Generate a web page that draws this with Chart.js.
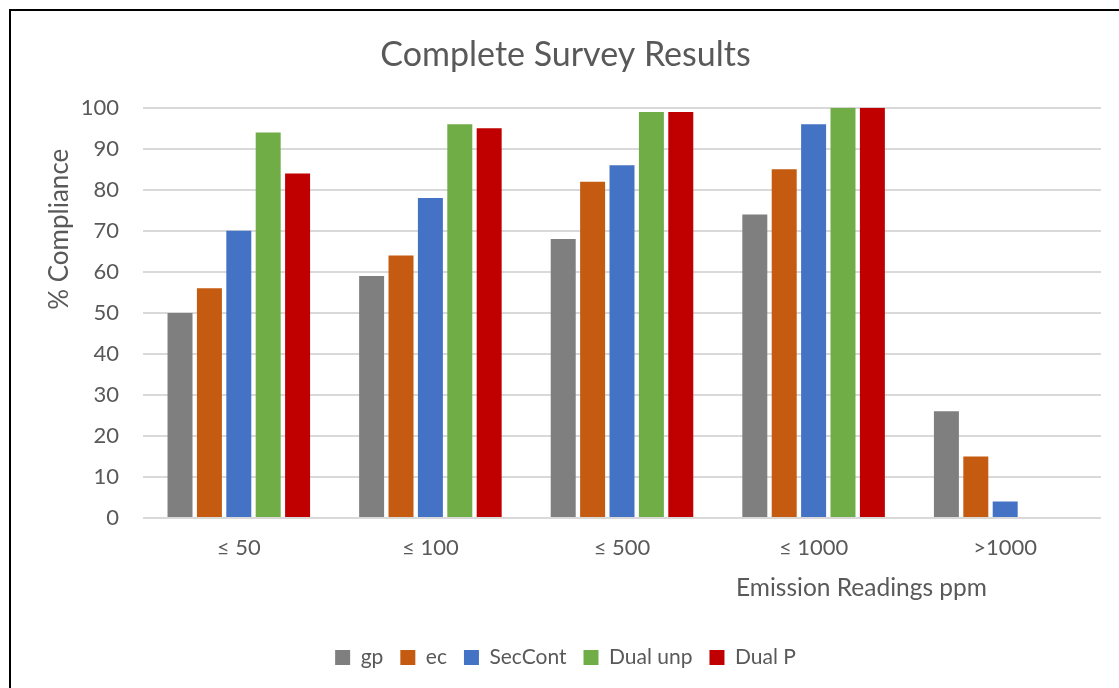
<!DOCTYPE html>
<html>
<head>
<meta charset="utf-8">
<script src="https://cdn.jsdelivr.net/npm/chart.js@4.4.1/dist/chart.umd.min.js"></script>
<style>
  html, body { margin: 0; padding: 0; background: #fff; }
  #marco {
    position: absolute; left: 9px; top: 9px; width: 1110px; height: 679px;
    border-left: 2px solid #000; border-top: 2px solid #000;
  }
  #caja { position: absolute; left: 0; top: 0; width: 1119px; height: 688px; }
</style>
</head>
<body>
<div id="marco"></div>
<div id="caja"><canvas id="grafico"></canvas></div>
<script>
// Datos
var categorias = ['\u2264 50', '\u2264 100', '\u2264 500', '\u2264 1000', '>1000'];
var gp       = [50, 59, 68, 74, 26];
var ec       = [56, 64, 82, 85, 15];
var secCont  = [70, 78, 86, 96, 4];
var dualUnp  = [94, 96, 99, 100, 0];
var dualP    = [84, 95, 99, 100, 0];
var ticksY   = [0, 10, 20, 30, 40, 50, 60, 70, 80, 90, 100];

var gris = '#595959';
var fuente = "Lato, 'Open Sans', sans-serif";

// Titulos de los ejes colocados como en Excel (no centrados)
var titulosEjes = {
    id: 'titulosEjes',
    afterDraw: function(chart) {
        var ctx = chart.ctx;
        var area = chart.chartArea;
        ctx.save();
        ctx.fillStyle = gris;
        ctx.textAlign = 'center';
        ctx.textBaseline = 'middle';
        // eje X
        ctx.font = '24.5px ' + fuente;
        ctx.fillText('Emission Readings ppm', area.left + (area.right - area.left) * 0.75, area.bottom + 70);
        // eje Y
        ctx.font = '26px ' + fuente;
        ctx.translate(60, area.top + (area.bottom - area.top) * 0.296);
        ctx.rotate(-Math.PI / 2);
        ctx.fillText('% Compliance', 0, 0);
        ctx.restore();
    }
};

var ctx = document.getElementById('grafico').getContext('2d');
var grafico = new Chart(ctx, {
    type: 'bar',
    data: {
        labels: categorias,
        datasets: [
            { label: 'gp', data: gp, backgroundColor: '#7f7f7f' },
            { label: 'ec', data: ec, backgroundColor: '#c55a11' },
            { label: 'SecCont', data: secCont, backgroundColor: '#4472c4' },
            { label: 'Dual unp', data: dualUnp, backgroundColor: '#70ad47' },
            { label: 'Dual P', data: dualP, backgroundColor: '#c00000' }
        ]
    },
    options: {
        responsive: true,
        maintainAspectRatio: false,
        animation: false,
        datasets: { bar: { barPercentage: 0.85, categoryPercentage: 0.767 } },
        layout: { padding: { left: 30, right: 18, top: 22, bottom: 10 } },
        plugins: {
            title: {
                display: true,
                text: 'Complete Survey Results',
                color: gris,
                font: { family: fuente, size: 34, weight: 'normal' },
                padding: { top: 13, bottom: 32 }
            },
            legend: {
                position: 'bottom',
                labels: {
                    color: gris,
                    font: { family: fuente, size: 21 },
                    boxWidth: 15,
                    boxHeight: 15,
                    padding: 17
                }
            },
            tooltip: { enabled: false }
        },
        scales: {
            x: {
                grid: { display: false },
                border: { display: false },
                ticks: { color: gris, font: { family: fuente, size: 22 }, padding: 9 },
                afterFit: function(scale) { scale.height = 112; }
            },
            y: {
                min: 0,
                max: 100,
                afterBuildTicks: function(scale) {
                    scale.ticks = ticksY.map(function(v) { return { value: v }; });
                },
                afterFit: function(scale) { scale.width = 113; },
                grid: { color: '#d9d9d9', lineWidth: 2, drawTicks: false },
                border: { display: false },
                ticks: { color: gris, font: { family: fuente, size: 22 }, padding: 24 }
            }
        }
    },
    plugins: [titulosEjes]
});
</script>
</body>
</html>
